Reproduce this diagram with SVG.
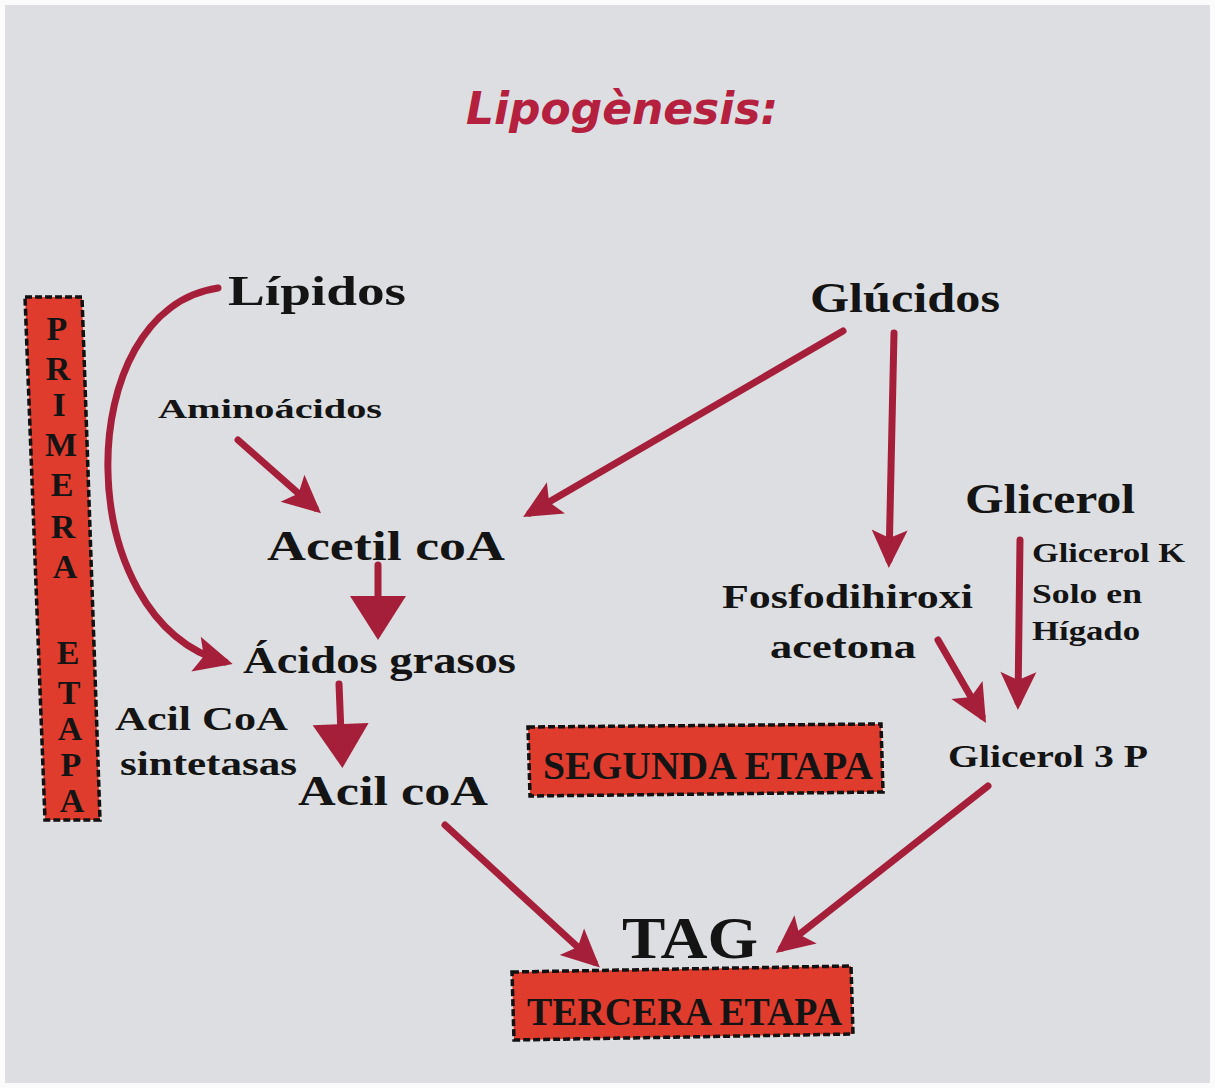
<svg xmlns="http://www.w3.org/2000/svg" width="1215" height="1088" viewBox="0 0 1215 1088">
<style>
.t{font-family:"Liberation Serif","DejaVu Serif",serif;font-weight:bold;fill:#141414}
.box{fill:#e03c2e;stroke:#111;stroke-width:3.5;stroke-dasharray:7 3}
.ar{fill:none;stroke:#a51f3a;stroke-width:7;stroke-linecap:round}
.v{font-family:"Liberation Serif",serif;font-weight:bold;font-size:34px;fill:#141414;text-anchor:middle}
</style>
<defs>
<marker id="ah" markerUnits="userSpaceOnUse" markerWidth="50" markerHeight="50" refX="34" refY="25" orient="auto" viewBox="0 0 50 50">
<path d="M4,7 L42,25 L4,43 L12,25 Z" fill="#a51f3a"/>
</marker>
<marker id="ahb" markerUnits="userSpaceOnUse" markerWidth="64" markerHeight="64" refX="40" refY="32" orient="auto" viewBox="0 0 64 64">
<path d="M6,4 L50,32 L6,60 Z" fill="#a51f3a"/>
</marker>
</defs>
<rect x="0" y="0" width="1215" height="1088" fill="#fbfbfb"/>
<rect x="5" y="5" width="1205" height="1078" fill="#dcdee1"/>
<text x="622" y="124" text-anchor="middle" style="font-family:'DejaVu Sans',sans-serif;font-weight:bold;font-style:italic;font-size:44px;fill:#b5203e" textLength="312" lengthAdjust="spacingAndGlyphs">Lipogènesis:</text>

<g id="connectors">
<path class="ar" d="M218,288 C70,310 70,620 225,662" marker-end="url(#ah)"/>
<path class="ar" d="M238,440 L315,508" marker-end="url(#ah)"/>
<path class="ar" d="M843,331 L530,513" marker-end="url(#ah)"/>
<path class="ar" d="M894,333 L889,560" marker-end="url(#ah)"/>
<path class="ar" d="M378,565 L378,630" marker-end="url(#ahb)"/>
<path class="ar" d="M339,684 L342,758" marker-end="url(#ahb)"/>
<path class="ar" d="M1020,540 L1018,702" marker-end="url(#ah)"/>
<path class="ar" d="M938,640 L982,716" marker-end="url(#ah)"/>
<path class="ar" d="M445,825 L594,962" marker-end="url(#ah)"/>
<path class="ar" d="M988,786 L782,948" marker-end="url(#ah)"/>
</g>

<g id="primera">
<polygon class="box" points="25,297 82,297 100,820 45,820"/>
<text class="v" x="57" y="340">P</text>
<text class="v" x="58" y="380">R</text>
<text class="v" x="59" y="416">I</text>
<text class="v" x="61" y="456">M</text>
<text class="v" x="62" y="496">E</text>
<text class="v" x="63" y="538">R</text>
<text class="v" x="65" y="578">A</text>
<text class="v" x="68" y="664">E</text>
<text class="v" x="69" y="704">T</text>
<text class="v" x="70" y="740">A</text>
<text class="v" x="71" y="776">P</text>
<text class="v" x="72" y="812">A</text>
</g>
<g id="lipidos"><text class="t" x="228" y="305" font-size="42" textLength="178" lengthAdjust="spacingAndGlyphs">Lípidos</text></g>
<g id="glucidos"><text class="t" x="810" y="312" font-size="42" textLength="190" lengthAdjust="spacingAndGlyphs">Glúcidos</text></g>
<g id="aminoacidos"><text class="t" x="158" y="418" font-size="28" textLength="224" lengthAdjust="spacingAndGlyphs">Aminoácidos</text></g>
<g id="acetil"><text class="t" x="267" y="560" font-size="42" textLength="238" lengthAdjust="spacingAndGlyphs">Acetil coA</text></g>
<g id="acidos"><text class="t" x="243" y="673" font-size="38" textLength="273" lengthAdjust="spacingAndGlyphs">Ácidos grasos</text></g>
<g id="sintetasas">
<text class="t" x="115" y="730" font-size="34" textLength="173" lengthAdjust="spacingAndGlyphs">Acil CoA</text>
<text class="t" x="120" y="775" font-size="34" textLength="177" lengthAdjust="spacingAndGlyphs">sintetasas</text>
</g>
<g id="acilcoa"><text class="t" x="298" y="805" font-size="42" textLength="190" lengthAdjust="spacingAndGlyphs">Acil coA</text></g>
<g id="segunda">
<polygon class="box" points="528,727 881,724 883,792 530,796"/>
<text class="t" x="543" y="779" font-size="40" textLength="330" lengthAdjust="spacingAndGlyphs">SEGUNDA ETAPA</text>
</g>
<g id="glicerol"><text class="t" x="965" y="513" font-size="42" textLength="170" lengthAdjust="spacingAndGlyphs">Glicerol</text></g>
<g id="glicerolk">
<text class="t" x="1032" y="562" font-size="28" textLength="153" lengthAdjust="spacingAndGlyphs">Glicerol K</text>
<text class="t" x="1032" y="603" font-size="28" textLength="110" lengthAdjust="spacingAndGlyphs">Solo en</text>
<text class="t" x="1032" y="640" font-size="28" textLength="108" lengthAdjust="spacingAndGlyphs">Hígado</text>
</g>
<g id="fosfo">
<text class="t" x="722" y="608" font-size="34" textLength="251" lengthAdjust="spacingAndGlyphs">Fosfodihiroxi</text>
<text class="t" x="770" y="658" font-size="34" textLength="146" lengthAdjust="spacingAndGlyphs">acetona</text>
</g>
<g id="glicerol3p"><text class="t" x="948" y="767" font-size="32" textLength="200" lengthAdjust="spacingAndGlyphs">Glicerol 3 P</text></g>
<g id="tag"><text class="t" x="622" y="958" font-size="60" textLength="136" lengthAdjust="spacingAndGlyphs">TAG</text></g>
<g id="tercera">
<polygon class="box" points="512,972 851,966 853,1034 514,1040"/>
<text class="t" x="527" y="1025" font-size="40" textLength="315" lengthAdjust="spacingAndGlyphs">TERCERA ETAPA</text>
</g>
</svg>
